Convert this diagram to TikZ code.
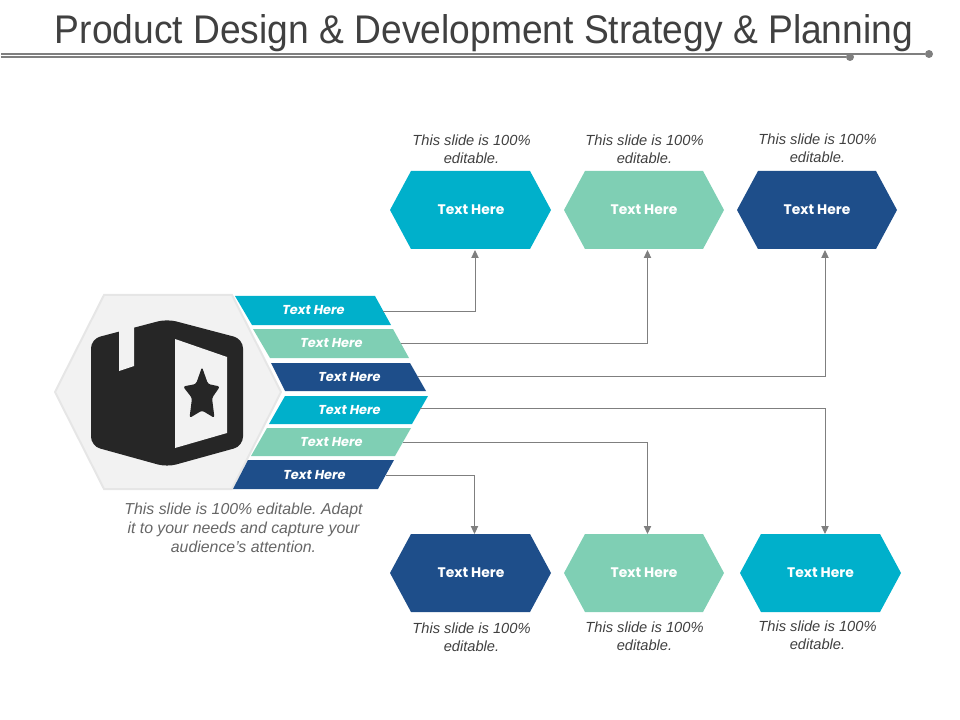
\documentclass[tikz,border=0pt]{standalone}
\usepackage{fontspec}
\setmainfont{Liberation Sans}
\newfontfamily\popfont{Poppins}
\newfontfamily\titlefont[FakeStretch=0.93]{Liberation Sans}
\usetikzlibrary{arrows.meta}
\frenchspacing
\definecolor{cyanbar}{HTML}{00B0CB}
\definecolor{mintbar}{HTML}{7FCFB4}
\definecolor{navybar}{HTML}{1E4E8A}
\definecolor{titlegrey}{HTML}{404040}
\definecolor{rulegrey}{HTML}{7F7F7F}
\definecolor{iconblack}{HTML}{262626}
\definecolor{hexfill}{HTML}{F2F2F2}
\definecolor{hexedge}{HTML}{E6E6E6}
\tikzset{
  hexlabel/.style={text=white,font=\popfont\fontsize{10.4pt}{12pt}\selectfont\bfseries,inner sep=0pt,minimum width=120pt,minimum height=58pt},
  barlabel/.style={text=white,font=\popfont\fontsize{9.7pt}{12pt}\selectfont\bfseries\itshape,inner sep=0pt},
  note/.style={text=titlegrey,font=\fontsize{11pt}{13.7pt}\selectfont\itshape,align=center,inner sep=0pt},
  link/.style={draw=rulegrey,line width=0.75pt,-{Triangle[length=6pt,width=5.5pt]}},
  rulebar/.style={draw=rulegrey,line width=1.5pt},
  ruledot/.style={fill=rulegrey,draw=none,circle,minimum size=6pt,inner sep=0pt},
}
\newcommand{\hexshape}[4]{% x left, y top, width, colour
  \fill[#4] (#1,#2+39) -- (#1+21,#2) -- (#1+#3-21,#2) -- (#1+#3,#2+39) -- (#1+#3-21,#2+78) -- (#1+21,#2+78) -- cycle;}
\begin{document}
\begin{tikzpicture}[x=0.75pt,y=-0.75pt]
\useasboundingbox (0,0) rectangle (960,720);
% title and rules
\node[text=titlegrey,font=\titlefont\fontsize{30pt}{34pt}\selectfont,inner sep=0pt] (title) at (484,33) {Product Design \& Development Strategy \& Planning};
\node[ruledot] (dotA) at (929,54) {};
\node[ruledot] (dotB) at (850,57) {};
\coordinate (ruleA) at (1,54);
\coordinate (ruleB) at (1,57);
\draw[rulebar] (ruleA) -- (dotA);
\draw[rulebar] (ruleB) -- (dotB);
% big hexagon
\path[fill=hexfill,draw=hexedge,line width=1.5pt] (55,392) -- (104,295) -- (232,295) -- (281,392) -- (232,489) -- (104,489) -- cycle;
% icon
\fill[iconblack,rounded corners=7pt] (91,339) -- (167,319) -- (243,339) -- (243,446) -- (167,467) -- (91,446) -- cycle;
\fill[hexfill] (119,325) -- (134,325) -- (134,366) -- (119,371) -- cycle;
\fill[hexfill] (175,339) -- (227,357) -- (227,433) -- (175,448) -- cycle;
\fill[iconblack,rounded corners=1.8pt] (202,367) -- (208,384) -- (220,386.5) -- (212,398) -- (214.5,418) -- (202,410.5) -- (189.5,418) -- (192,398) -- (183,386.5) -- (196,384) -- cycle;
% hexagons
\hexshape{390}{171}{161}{cyanbar}
\hexshape{564}{171}{160}{mintbar}
\hexshape{737}{171}{160}{navybar}
\hexshape{390}{534}{161}{navybar}
\hexshape{564}{534}{160}{mintbar}
\hexshape{740}{534}{161}{cyanbar}
\node[hexlabel] (t1) at (471,209.5) {Text Here};
\node[hexlabel] (t2) at (644,209.5) {Text Here};
\node[hexlabel] (t3) at (817,209.5) {Text Here};
\node[hexlabel] (b1) at (471,572.5) {Text Here};
\node[hexlabel] (b2) at (644,572.5) {Text Here};
\node[hexlabel] (b3) at (820.5,572.5) {Text Here};
% bars
\fill[cyanbar] (235,296) -- (375,296) -- (391,325) -- (252,325) -- cycle;
\fill[mintbar] (253,329) -- (393,329) -- (409,358) -- (270,358) -- cycle;
\fill[navybar] (271,363) -- (410,363) -- (426,391) -- (285,391) -- cycle;
\fill[cyanbar] (285,396) -- (428,396) -- (412,424) -- (269,424) -- cycle;
\fill[mintbar] (267,428) -- (411,428) -- (395,456) -- (251,456) -- cycle;
\fill[navybar] (248,460) -- (394,460) -- (378,489) -- (233,489) -- cycle;
\node[barlabel] (s1) at (313.5,310.5) {Text Here};
\node[barlabel] (s2) at (331.5,343.5) {Text Here};
\node[barlabel] (s3) at (349.5,377.5) {Text Here};
\node[barlabel] (s4) at (349.5,410.5) {Text Here};
\node[barlabel] (s5) at (331.5,442.5) {Text Here};
\node[barlabel] (s6) at (314.5,475.5) {Text Here};
% connector ends
\coordinate (p1) at (383,311);
\coordinate (p2) at (401,343);
\coordinate (p3) at (418,376);
\coordinate (p4) at (420,408);
\coordinate (p5) at (403,442);
\coordinate (p6) at (386,475);
\coordinate (q1) at (475,250);
\coordinate (q2) at (647.5,250);
\coordinate (q3) at (825,250);
\coordinate (q4) at (825,534);
\coordinate (q5) at (647.5,534);
\coordinate (q6) at (474.5,534);
\draw[link] (p1) -| (q1);
\draw[link] (p2) -| (q2);
\draw[link] (p3) -| (q3);
\draw[link] (p4) -| (q4);
\draw[link] (p5) -| (q5);
\draw[link] (p6) -| (q6);
% notes
\node[note] (n1) at (471.5,149.5) {This slide is 100\%\\editable.};
\node[note] (n2) at (644.5,149.5) {This slide is 100\%\\editable.};
\node[note] (n3) at (817.5,148.5) {This slide is 100\%\\editable.};
\node[note] (n4) at (471.5,637.5) {This slide is 100\%\\editable.};
\node[note] (n5) at (644.5,636.5) {This slide is 100\%\\editable.};
\node[note] (n6) at (817.5,635.5) {This slide is 100\%\\editable.};
\node[note,text=black!60,font=\fontsize{11.9pt}{14.3pt}\selectfont\itshape] (n7) at (243.5,528) {This slide is 100\% editable. Adapt\\it to your needs and capture your\\audience's attention.};
\end{tikzpicture}
\end{document}
